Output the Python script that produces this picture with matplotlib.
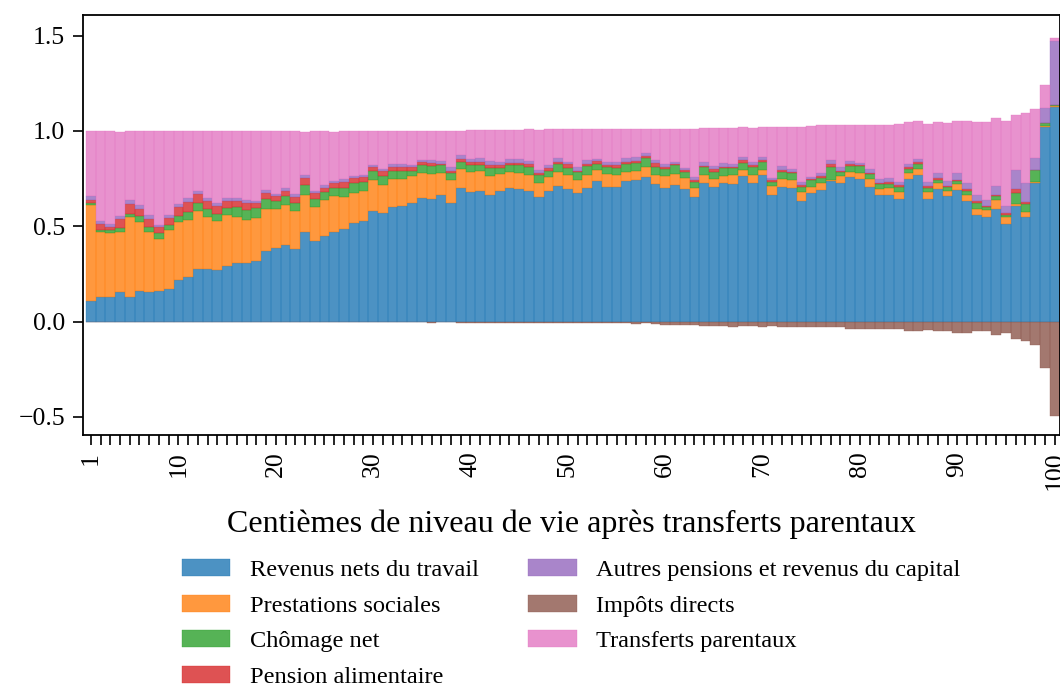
import numpy as np
import matplotlib
matplotlib.use("Agg")
import matplotlib.pyplot as plt

plt.rcParams['font.family'] = ['Liberation Serif', 'DejaVu Serif']

# Centiles 1..100
centiles = np.arange(1, 101)
tick_centiles = [1, 10, 20, 30, 40, 50, 60, 70, 80, 90, 100]

travail = [
    0.110, 0.128, 0.129, 0.156, 0.128, 0.161, 0.156, 0.161, 0.173, 0.219,
    0.236, 0.276, 0.276, 0.273, 0.292, 0.308, 0.306, 0.316, 0.369, 0.388,
    0.399, 0.383, 0.472, 0.421, 0.451, 0.472, 0.484, 0.519, 0.530, 0.579,
    0.568, 0.603, 0.608, 0.621, 0.650, 0.645, 0.663, 0.621, 0.698, 0.682,
    0.685, 0.663, 0.685, 0.698, 0.694, 0.685, 0.654, 0.687, 0.713, 0.694,
    0.673, 0.703, 0.736, 0.708, 0.708, 0.738, 0.743, 0.757, 0.724, 0.698,
    0.715, 0.696, 0.652, 0.726, 0.705, 0.726, 0.724, 0.766, 0.726, 0.767,
    0.663, 0.708, 0.703, 0.631, 0.673, 0.692, 0.738, 0.727, 0.760, 0.747,
    0.705, 0.663, 0.663, 0.643, 0.748, 0.771, 0.645, 0.696, 0.656, 0.692,
    0.635, 0.558, 0.547, 0.593, 0.514, 0.608, 0.551, 0.727, 1.021, 1.128]

prestations = [
    0.502, 0.344, 0.337, 0.316, 0.421, 0.362, 0.316, 0.273, 0.308, 0.301,
    0.299, 0.304, 0.273, 0.255, 0.267, 0.243, 0.229, 0.229, 0.219, 0.203,
    0.210, 0.198, 0.194, 0.182, 0.189, 0.185, 0.171, 0.157, 0.157, 0.166,
    0.150, 0.143, 0.138, 0.140, 0.128, 0.128, 0.114, 0.121, 0.103, 0.105,
    0.105, 0.103, 0.087, 0.089, 0.086, 0.086, 0.075, 0.072, 0.073, 0.077,
    0.072, 0.068, 0.061, 0.068, 0.063, 0.049, 0.049, 0.054, 0.047, 0.068,
    0.061, 0.058, 0.051, 0.045, 0.045, 0.040, 0.047, 0.031, 0.045, 0.028,
    0.047, 0.040, 0.037, 0.049, 0.035, 0.033, 0.005, 0.038, 0.026, 0.030,
    0.044, 0.033, 0.035, 0.038, 0.031, 0.031, 0.037, 0.031, 0.030, 0.028,
    0.030, 0.035, 0.040, 0.045, 0.037, 0.009, 0.023, 0.005, 0.003, 0.003]

chomage = [
    0.012, 0.009, 0.012, 0.019, 0.017, 0.033, 0.024, 0.028, 0.026, 0.035,
    0.040, 0.040, 0.042, 0.038, 0.038, 0.051, 0.051, 0.051, 0.056, 0.042,
    0.047, 0.040, 0.052, 0.038, 0.042, 0.045, 0.047, 0.052, 0.047, 0.047,
    0.047, 0.044, 0.042, 0.030, 0.044, 0.045, 0.042, 0.035, 0.037, 0.035,
    0.030, 0.040, 0.035, 0.035, 0.042, 0.040, 0.038, 0.031, 0.042, 0.037,
    0.037, 0.047, 0.031, 0.037, 0.037, 0.042, 0.040, 0.049, 0.040, 0.035,
    0.044, 0.033, 0.031, 0.038, 0.037, 0.037, 0.037, 0.035, 0.042, 0.044,
    0.024, 0.037, 0.038, 0.028, 0.037, 0.030, 0.070, 0.021, 0.031, 0.037,
    0.024, 0.023, 0.026, 0.026, 0.023, 0.026, 0.021, 0.017, 0.019, 0.017,
    0.021, 0.031, 0.012, 0.023, 0.010, 0.056, 0.045, 0.063, 0.016, 0.005]

pension = [
    0.012, 0.030, 0.017, 0.047, 0.049, 0.035, 0.040, 0.035, 0.037, 0.045,
    0.054, 0.047, 0.044, 0.040, 0.035, 0.033, 0.035, 0.026, 0.031, 0.026,
    0.028, 0.033, 0.037, 0.031, 0.021, 0.024, 0.030, 0.023, 0.024, 0.019,
    0.023, 0.023, 0.024, 0.019, 0.014, 0.012, 0.009, 0.014, 0.016, 0.014,
    0.017, 0.016, 0.014, 0.012, 0.012, 0.016, 0.014, 0.014, 0.010, 0.016,
    0.010, 0.009, 0.012, 0.007, 0.012, 0.009, 0.012, 0.010, 0.021, 0.010,
    0.005, 0.007, 0.009, 0.009, 0.012, 0.007, 0.005, 0.016, 0.009, 0.009,
    0.007, 0.010, 0.007, 0.009, 0.005, 0.007, 0.014, 0.003, 0.007, 0.005,
    0.007, 0.007, 0.007, 0.007, 0.007, 0.009, 0.009, 0.007, 0.007, 0.005,
    0.009, 0.007, 0.007, 0.003, 0.007, 0.024, 0.009, 0.002, 0.002, 0.002]

autres = [
    0.024, 0.019, 0.016, 0.016, 0.021, 0.019, 0.023, 0.009, 0.016, 0.017,
    0.017, 0.017, 0.012, 0.016, 0.016, 0.012, 0.017, 0.009, 0.016, 0.012,
    0.016, 0.016, 0.014, 0.012, 0.014, 0.012, 0.014, 0.012, 0.012, 0.012,
    0.010, 0.014, 0.014, 0.012, 0.012, 0.016, 0.016, 0.019, 0.019, 0.017,
    0.021, 0.021, 0.016, 0.019, 0.019, 0.016, 0.016, 0.017, 0.019, 0.014,
    0.019, 0.021, 0.012, 0.017, 0.017, 0.021, 0.019, 0.014, 0.014, 0.016,
    0.012, 0.012, 0.016, 0.019, 0.017, 0.023, 0.014, 0.016, 0.016, 0.016,
    0.012, 0.021, 0.016, 0.016, 0.009, 0.017, 0.021, 0.021, 0.017, 0.014,
    0.021, 0.021, 0.023, 0.016, 0.017, 0.016, 0.021, 0.028, 0.026, 0.037,
    0.031, 0.033, 0.031, 0.047, 0.037, 0.096, 0.100, 0.061, 0.079, 0.336]

impots = [
    0.000, 0.000, 0.000, 0.000, 0.000, 0.000, 0.000, 0.000, 0.000, 0.000,
    -0.001, -0.001, 0.000, -0.003, -0.001, -0.001, -0.001, -0.001, -0.001, -0.001,
    -0.004, -0.002, -0.002, -0.004, -0.001, -0.001, -0.004, -0.003, -0.003, -0.003,
    -0.003, -0.004, -0.004, -0.004, -0.004, -0.005, -0.004, -0.004, -0.005, -0.006,
    -0.006, -0.009, -0.009, -0.009, -0.009, -0.009, -0.009, -0.009, -0.009, -0.009,
    -0.009, -0.007, -0.005, -0.009, -0.010, -0.010, -0.015, -0.009, -0.015, -0.016,
    -0.016, -0.016, -0.016, -0.021, -0.021, -0.021, -0.026, -0.021, -0.021, -0.026,
    -0.021, -0.026, -0.026, -0.026, -0.026, -0.031, -0.031, -0.031, -0.037, -0.037,
    -0.037, -0.037, -0.037, -0.037, -0.047, -0.052, -0.042, -0.052, -0.047, -0.058,
    -0.058, -0.052, -0.052, -0.073, -0.058, -0.089, -0.100, -0.121, -0.241, -0.493]

parentaux = [
    0.339, 0.470, 0.488, 0.441, 0.364, 0.390, 0.441, 0.495, 0.441, 0.383,
    0.353, 0.315, 0.353, 0.378, 0.351, 0.353, 0.362, 0.369, 0.309, 0.329,
    0.301, 0.330, 0.226, 0.315, 0.283, 0.255, 0.253, 0.236, 0.229, 0.177,
    0.201, 0.173, 0.173, 0.178, 0.152, 0.154, 0.157, 0.191, 0.128, 0.152,
    0.147, 0.163, 0.168, 0.152, 0.152, 0.168, 0.208, 0.189, 0.152, 0.173,
    0.199, 0.163, 0.157, 0.173, 0.173, 0.152, 0.147, 0.126, 0.164, 0.184,
    0.173, 0.205, 0.252, 0.178, 0.199, 0.184, 0.189, 0.157, 0.178, 0.157,
    0.267, 0.205, 0.220, 0.288, 0.267, 0.252, 0.184, 0.220, 0.189, 0.199,
    0.231, 0.285, 0.278, 0.306, 0.220, 0.199, 0.304, 0.267, 0.304, 0.273,
    0.327, 0.383, 0.409, 0.357, 0.448, 0.290, 0.367, 0.257, 0.121, 0.012]

# positive components stacked in this order, then taxes below zero, then parental transfers on top
positives = [
    ("Revenus nets du travail", travail, "tab:blue"),
    ("Prestations sociales", prestations, "tab:orange"),
    ("Chômage net", chomage, "tab:green"),
    ("Pension alimentaire", pension, "tab:red"),
    ("Autres pensions et revenus du capital", autres, "tab:purple"),
]

fig = plt.figure(figsize=(10.6, 6.84), dpi=100)
ax = fig.add_axes([83 / 1060, 1 - 435 / 684, 976.5 / 1060, 420 / 684])

bar_kw = dict(width=1.0, alpha=0.8, linewidth=0.3)
bottom = np.zeros(len(centiles))
for label, values, color in positives:
    values = np.array(values)
    ax.bar(centiles, values, bottom=bottom, color=color, edgecolor=color, label=label, **bar_kw)
    bottom = bottom + values

ax.bar(centiles, impots, color="tab:brown", edgecolor="tab:brown", label="Impôts directs", **bar_kw)
ax.bar(centiles, parentaux, bottom=bottom, color="tab:pink", edgecolor="tab:pink",
       label="Transferts parentaux", **bar_kw)

ax.set_xlim(0.2, 100.5)
ax.set_ylim(-0.595, 1.608)
ax.set_yticks([-0.5, 0.0, 0.5, 1.0, 1.5])

ax.set_xticks(centiles)
ax.set_xticklabels([str(c) if c in tick_centiles else "" for c in centiles], rotation=90)
ax.tick_params(axis="both", labelsize=18.5, length=7, width=1.2, pad=6)
ax.tick_params(axis="x", length=7, pad=5)
for spine in ax.spines.values():
    spine.set_linewidth(1.3)

ax.set_xlabel("Centièmes de niveau de vie après transferts parentaux", fontsize=23, labelpad=14)

fig.legend(loc="upper center", bbox_to_anchor=(571 / 1060, 1 - 537 / 684), ncol=2,
           frameon=False, fontsize=17.6, labelspacing=0.55, columnspacing=2.0,
           handlelength=2.0, handletextpad=0.8)

fig.savefig("out.png", dpi=100)
